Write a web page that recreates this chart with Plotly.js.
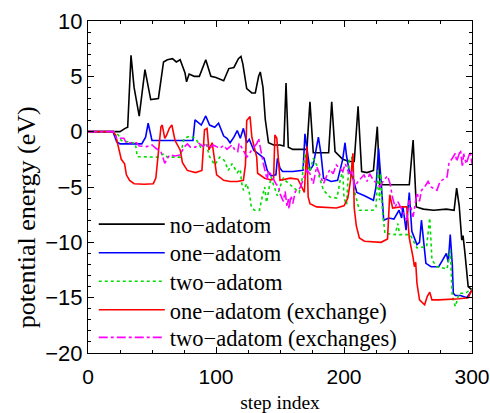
<!DOCTYPE html>
<html>
<head>
<meta charset="utf-8">
<script src="https://cdn.plot.ly/plotly-3.0.1.min.js"></script>
<style>html,body{margin:0;padding:0;background:#fff;}#chart{width:490px;height:413px;}</style>
</head>
<body>
<div id="chart"></div>
<script>
// ---- data ----
const seriesNames = ["no\u2212adatom", "one\u2212adatom", "two\u2212adatom", "one\u2212adatom (exchange)", "two\u2212adatom (exchanges)"];

const noAdatomStep = [0,25,29,31,33.6,36,40,44.5,49,55,59,62,66,69,72,75.8,77,79,83,87,92,96,100,104,106,110,114,117.5,119.5,121,124,128,130.7,133.3,134.6,136.7,138.5,141,145,150,153,154.7,156.5,160,168,171,173.4,176,188,190.4,193,199,204,208,211,213.8,218,223,226,228,240,251,254,256.5,262,270,280,286,288,290,292,293,294.5,297,300];
const noAdatomE = [0,0,0.3,0.4,6.9,4,1.4,5.6,2.9,3.0,6.3,6.5,6.6,6.3,6.5,5.3,4.5,5.2,5.0,5.0,6.5,5.0,4.9,4.7,4.6,5.7,5.8,6.6,6.8,6.1,3.9,3.5,3.5,5.0,5.4,4.0,1.1,-1.0,-1.2,-1.2,-1.3,4.4,-1.4,-1.6,-1.6,-1.6,2.7,-1.9,-1.9,2.7,-1.8,-2.5,-2.7,-2.7,2.3,-3.6,-3.7,-3.5,0.45,-4.8,-4.8,-4.8,-0.75,-6.8,-7.0,-7.1,-7.0,-7.1,-5.1,-6.7,-9.8,-9.4,-11,-14,-14.3];

const oneAdatomStep = [0,19.5,22.4,25,42,45,47,49,50,56,82,83.6,86,88.5,92,95,99,102,106,108.6,111,114,116.6,119,121.4,124,126,129.6,132,137.5,140,143,146.8,148,150,152,160,168,169.5,171,173.4,176,180,182,184,190,195,199,200.8,202,204,207,210,216,223,225,227,229,231,235,239,243,245,246,248.5,251,253,257,259,260.5,262,264,268,274,277,280,281.5,283,284.6,285.4,287,291,296,300];
const oneAdatomE = [0,0,-0.9,-1.1,-1.1,-0.5,0.76,-0.3,-0.8,-0.8,-0.8,1.06,0.8,0.6,1.42,0.6,0.4,0.76,-0.4,-0.6,-1.0,-0.5,0.1,-0.6,0.3,-1.0,-0.7,-1.7,-1.9,-2.4,-3.5,-4.0,-3.9,-2.4,-3.3,-3.6,-3.6,-3.5,-0.2,-1.5,-3.5,-3.0,-0.5,-2.0,-4.2,-4.5,-4.4,-2.5,-1.0,-2.2,-3.5,-4.2,-5.5,-5.8,-6.2,-5.0,-1.5,-4.5,-8.0,-7.8,-7.9,-7.1,-7.8,-6.8,-8.9,-5.5,-9.0,-10.2,-10.0,-8.0,-9.8,-11.9,-12.2,-12.2,-11.6,-11.0,-11.8,-9.3,-12.0,-14.6,-14.8,-14.8,-15.0,-14.3];

const twoAdatomStep = [0,20,23.7,26,30,37,38.5,54,59.5,62,72,75,80,84,86,88.5,92,95,99,103,106.5,109.6,112.5,116.6,119,120,121.4,124,126,127.6,130,134,135.5,138,139.5,143,145.5,148,150,152.6,155,160,165,167,169.5,171,173.4,176,178.6,181,184,189,194.3,195.5,197,199,200,202,204,206,208,212,222.7,225,226.5,227.8,228.5,230,232,240,242,243.5,251.6,253,257,264.5,267,268.7,272.6,280.5,283,284.6,287,290,294.5,299,300];
const twoAdatomE = [0,0,-0.3,-0.8,-0.9,-1.05,-2.26,-2.3,-2.0,-2.3,-2.3,-0.6,-0.4,-0.6,-1.0,-1.5,-1.0,-2.26,-3.0,-2.3,-2.6,-3.5,-2.9,-3.7,-3.4,-4.6,-5.3,-4.7,-5.5,-6.8,-7.1,-7.1,-6.2,-5.0,-6.4,-4.1,-5.0,-5.8,-5.0,-4.2,-4.5,-5.0,-5.5,-4.5,-1.95,-2.8,-3.6,-2.4,-3.0,-4.2,-5.3,-5.9,-6.0,-5.4,-4.4,-3.5,-6.0,-6.6,-2.5,-2.3,-5.3,-7.1,-7.1,-6.8,-3.5,-6.2,-3.8,-7.1,-9.2,-9.3,-8.3,-9.3,-9.3,-9.6,-10.5,-10.4,-7.8,-11.6,-12.2,-12.4,-10.7,-14.9,-15.8,-14.6,-14.6,-14.3,-14.3];

const oneExchStep = [0,19.5,21.6,23.4,24.5,26,28.6,30,32.5,36,44,51,53,55.7,57,58,60,61.5,63.5,65.5,68,72,73.8,77.6,84,89,91,93,94.5,97,99,100.5,106,111,116.6,121.4,123,124,126.6,128,131.8,132.5,138,143,145,146,147.5,149,150,158,164,167,169,171,172,173.4,178.6,194,200,203,205,207,208,209.6,212,216,229,234,235.7,238,244,249,251,254,255,256,257,259,263,265,267,268.7,274,290,297,300];
const oneExchE = [0,0,-0.3,-1.2,-1.8,-2.5,-2.9,-3.9,-4.4,-4.7,-4.75,-4.7,-4.2,-0.75,0.45,0.6,-0.6,-0.3,0.3,0.6,-0.8,-1.65,-2.8,-3.5,-3.7,-3.5,0.15,0.3,-1.65,-1.0,-2.7,-3.9,-4.4,-4.5,-4.5,-4.4,-3.0,1.0,1.36,-0.5,-2.3,-3.76,-4.2,-4.36,-4.3,-0.3,-0.6,-3.5,-4.4,-4.2,-4.3,-5.0,-5.5,-1.35,-5.9,-6.5,-6.8,-6.9,-6.7,-6.0,-4.5,-1.95,-6.9,-8.5,-9.6,-9.9,-10.0,-9.7,-5.7,-6.9,-6.8,-6.8,-9.6,-11.4,-12.2,-11.8,-13.7,-15.2,-15.65,-14.9,-14.5,-15.2,-15.2,-15.1,-15.0,-14.3];

const twoExchStep = [0,20,22.4,28,30,38,40,46,50,53,57,60,62,64,68,72,75,77.6,80,84,86.7,90,92,95,97.7,103,106,108.6,112.5,115,117,118,121,124,129,132,133.3,134.6,137,140,141,144,146.8,149,150,152.6,154,155.5,156.5,157,158.5,160,162,165.6,168,171,173.4,176,178.6,181,184,186.5,189,191.5,194,196.5,199,201,203.6,205,207,208,211,215.6,218,220,223,226,228,231,234,236,238,240,242,245,249,251,254,257,259,260.5,263,265.7,268,272.6,275,280.5,282,284.6,287,288,291,292.5,293.5,295.5,298.6,300];
const twoExchE = [0,0,-0.6,-0.6,-1.0,-1.0,-1.3,-1.35,-1.2,-1.5,-1.8,-2.86,-2.4,-2.1,-2.2,-2.1,-1.4,-1.1,-1.4,-1.4,-1.05,-1.35,-1.05,-1.5,-1.2,-1.5,-1.25,-1.6,-1.2,-1.7,-1.8,-1.05,-1.6,-2.3,-1.5,-1.05,-0.6,-1.5,-2.9,-4.36,-3.5,-4.1,-4.7,-5.0,-5.6,-6.3,-5.4,-6.8,-6.1,-7.0,-5.8,-6.5,-5.4,-5.1,-4.3,-3.46,-3.8,-4.7,-3.16,-3.8,-4.7,-4.0,-3.4,-3.8,-3.0,-3.3,-3.6,-2.9,-3.7,-3.8,-3.5,-5.0,-4.5,-3.9,-4.5,-3.8,-4.4,-4.7,-5.0,-4.4,-4.0,-4.7,-6.0,-6.8,-6.3,-7.0,-8.0,-6.2,-7.7,-5.5,-6.3,-5.3,-5.0,-4.5,-5.0,-5.3,-4.5,-4.1,-2.86,-2.4,-1.95,-2.7,-1.65,-3.2,-2.0,-2.9,-1.8,-2.9];

const xTickVals = [0,100,200,300];
const yTickVals = [-20,-15,-10,-5,0,5,10];
const xTitle = "step index";
const yTitle = "potential energy (eV)";

// ---- chart ----
const styles = [
  {color:"#000000", dash:"solid"},
  {color:"#0000ff", dash:"solid"},
  {color:"#00dd00", dash:"dot"},
  {color:"#ff0000", dash:"solid"},
  {color:"#ff00ff", dash:"dashdot"}
];
const xs = [noAdatomStep, oneAdatomStep, twoAdatomStep, oneExchStep, twoExchStep];
const ys = [noAdatomE, oneAdatomE, twoAdatomE, oneExchE, twoExchE];
const legendIds = ["legend", "legend2", "legend3", "legend4", "legend5"];
const legendRowY = [0.387, 0.301, 0.215, 0.129, 0.046];

const traces = seriesNames.map((n,i)=>({
  x: xs[i], y: ys[i], name: n, type: "scatter", mode: "lines",
  legend: legendIds[i],
  line: {color: styles[i].color, dash: styles[i].dash, width: 1.6}
}));

const serif = "Liberation Serif, Times New Roman, serif";
const sans = "Liberation Sans, Arial, sans-serif";

const axisCommon = {
  showline: true, linecolor: "#000", linewidth: 1, mirror: "ticks",
  ticks: "inside", ticklen: 6, tickwidth: 1, tickcolor: "#000",
  showgrid: false, zeroline: false, automargin: false
};

const layout = {
  width: 490, height: 413,
  margin: {l: 88, r: 18, t: 21, b: 60},
  paper_bgcolor: "#fff", plot_bgcolor: "#fff",
  xaxis: Object.assign({}, axisCommon, {
    range: [0, 300], tickvals: xTickVals, ticktext: xTickVals.map(String),
    tickfont: {family: sans, size: 21, color: "#000"}, ticklabelstandoff: 5,
    minor: {dtick: 25, tick0: 0, ticks: "inside", ticklen: 3, tickcolor: "#000", showgrid: false},
    title: {text: xTitle, font: {family: serif, size: 19.5, color: "#000"}, standoff: 8}
  }),
  yaxis: Object.assign({}, axisCommon, {
    range: [-20, 10], tickvals: yTickVals,
    tickfont: {family: sans, size: 22, color: "#000"},
    minor: {dtick: 1, tick0: 0, ticks: "inside", ticklen: 3, tickcolor: "#000", showgrid: false}
  }),
  annotations: [{
    text: yTitle, xref: "paper", yref: "paper", x: -0.158, y: 0.41,
    xanchor: "center", yanchor: "middle", textangle: -90, showarrow: false,
    font: {family: serif, size: 26, color: "#000"}
  }],
  showlegend: true
};
legendIds.forEach((id, i) => {
  layout[id] = {
    x: 0.015, y: legendRowY[i], xanchor: "left", yanchor: "middle",
    bgcolor: "rgba(255,255,255,0)", borderwidth: 0,
    font: {family: serif, size: 22.5, color: "#000"},
    itemwidth: 66
  };
});

Plotly.newPlot("chart", traces, layout, {staticPlot: true, displayModeBar: false});
</script>
</body>
</html>
